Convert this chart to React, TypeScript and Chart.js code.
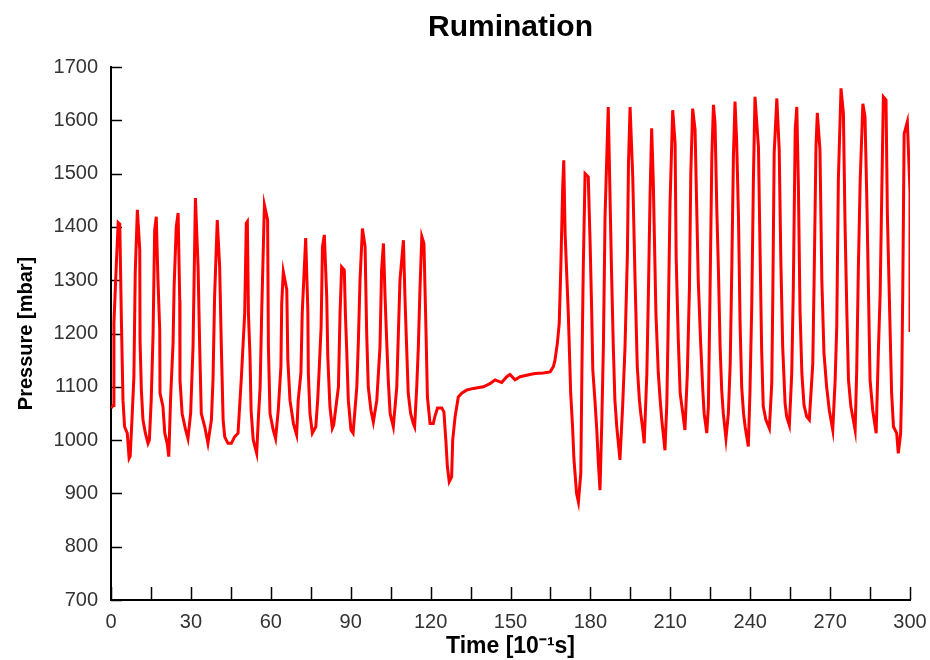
import React, { useEffect, useRef } from "react";
import { Chart, registerables } from "chart.js";

Chart.register(...registerables);

// [time (10^-1 s), pressure (mbar)]
const phase1: [number, number][] = [
  [0, 1060], [0.8, 1065], [1.1, 1220], [2.0, 1330], [2.7, 1408], [3.3, 1405], [3.9, 1225], [4.5, 1075], [5.1, 1025], [6.1, 1013], [6.8, 966], [7.2, 970],
  [7.9, 1041], [8.6, 1119], [9.1, 1313], [9.9, 1432], [10.8, 1357], [10.9, 1188], [11.4, 1094], [12.0, 1038], [12.9, 1013], [13.9, 994], [14.4, 1000],
  [15.1, 1075], [15.8, 1200], [16.4, 1394], [17.0, 1419], [17.6, 1306], [18.3, 1206], [18.4, 1088], [19.5, 1063], [20.2, 1013], [21.1, 994], [21.7, 969],
  [22.4, 1081], [23.3, 1182], [23.7, 1288], [24.5, 1400], [25.2, 1426], [25.8, 1263], [25.9, 1113], [26.7, 1050], [27.9, 1022], [28.9, 1003],
  [29.9, 1050], [30.8, 1175], [31.2, 1300], [31.7, 1454], [32.7, 1325], [33.3, 1175], [33.9, 1050], [35.2, 1025], [36.4, 994],
  [37.7, 1038], [38.3, 1113], [38.9, 1269], [39.9, 1413], [40.8, 1325], [41.4, 1182], [42.1, 1038], [42.7, 1006], [43.9, 994], [45.2, 994], [46.4, 1006], [47.7, 1013],
  [48.9, 1113], [50.2, 1238], [50.8, 1407], [51.2, 1410], [51.6, 1238], [52.2, 1156], [52.6, 1056], [53.4, 1000], [54.7, 975],
  [55.3, 1038], [56.0, 1100], [56.6, 1244], [57.6, 1441], [58.8, 1413], [59.1, 1175], [59.7, 1050], [60.9, 1019], [61.8, 1003],
  [62.8, 1056], [63.8, 1138], [64.1, 1257], [64.7, 1316], [66.0, 1282], [66.4, 1150], [67.2, 1075], [68.5, 1031], [69.7, 1010],
  [70.3, 1075], [71.3, 1125], [71.8, 1238], [72.6, 1325], [73.1, 1379], [73.9, 1244], [74.1, 1125], [74.7, 1050], [75.6, 1013], [76.9, 1025],
  [77.6, 1075], [78.1, 1125], [78.9, 1213], [79.4, 1363], [80.1, 1385], [81.0, 1269], [81.4, 1156], [82.2, 1063], [83.1, 1022], [83.6, 1028],
  [85.4, 1100], [86.0, 1238], [86.6, 1325], [87.6, 1319], [88.0, 1238], [88.5, 1169], [89.1, 1075], [90.1, 1019], [90.9, 1013],
  [92.3, 1100], [92.9, 1188], [93.5, 1300], [94.4, 1397], [95.4, 1363], [96.0, 1200], [96.6, 1100], [97.6, 1056], [98.5, 1034],
  [99.8, 1075], [101.0, 1175], [101.6, 1319], [102.3, 1369], [102.9, 1269], [103.5, 1188], [104.1, 1113], [104.8, 1050], [106.0, 1025],
  [107.3, 1100], [107.9, 1200], [108.5, 1300], [109.8, 1375], [110.4, 1263], [111.0, 1175], [111.6, 1088], [112.5, 1050], [113.5, 1031], [114.0, 1025],
  [114.8, 1100], [115.4, 1175], [116.0, 1282], [116.7, 1382], [117.5, 1369], [118.3, 1200], [118.8, 1081], [119.8, 1031],
];

const pause: [number, number][] = [
  [121.0, 1031], [121.6, 1044], [122.6, 1060], [124.2, 1060], [125.0, 1053], [125.8, 994], [126.3, 950], [127.0, 922], [127.9, 931],
  [128.3, 1000], [129.2, 1044], [130.4, 1081], [131.7, 1088], [133.6, 1094], [136.1, 1097], [139.8, 1100], [142.3, 1106], [144.2, 1113],
  [146.7, 1108], [148.6, 1119], [149.8, 1123], [151.7, 1113], [153.6, 1119], [157.3, 1123], [159.2, 1125], [162.3, 1126], [164.9, 1128],
  [166.1, 1138], [166.7, 1150], [167.6, 1182], [168.3, 1219], [168.9, 1325], [169.6, 1475],
];

const phase2: [number, number][] = [
  [170.0, 1525], [170.5, 1388], [171.7, 1238], [172.6, 1088], [173.3, 1025], [173.8, 966], [174.8, 900], [175.5, 884],
  [176.4, 938], [176.8, 1125], [177.3, 1316], [178.0, 1500], [179.2, 1494], [179.9, 1369], [180.5, 1238], [180.9, 1132], [181.7, 1075], [182.4, 1019], [183.0, 956], [183.6, 906],
  [184.3, 1038], [184.9, 1182], [185.5, 1419], [186.7, 1625], [187.9, 1325], [188.6, 1175], [189.2, 1075], [189.9, 1025], [190.5, 994], [191.1, 963],
  [192.1, 1063], [193.0, 1175], [193.9, 1350], [194.3, 1519], [194.9, 1625], [195.9, 1494], [196.8, 1294], [197.6, 1138], [198.4, 1075], [198.9, 1050], [199.7, 1019], [200.2, 994],
  [201.2, 1125], [201.8, 1282], [202.4, 1457], [203.0, 1585], [203.6, 1488], [204.6, 1238], [205.5, 1125], [206.2, 1075], [206.8, 1038], [208.0, 981],
  [208.7, 1069], [209.2, 1213], [209.9, 1444], [210.9, 1619], [211.8, 1557], [212.2, 1344], [213.0, 1188], [213.7, 1088], [214.7, 1050], [215.5, 1019],
  [216.4, 1125], [217.2, 1288], [217.7, 1500], [218.4, 1622], [219.3, 1582], [219.7, 1488], [220.5, 1300], [221.4, 1182], [222.2, 1094], [222.7, 1050], [223.7, 1013],
  [224.3, 1063], [224.9, 1269], [225.6, 1532], [226.2, 1629], [226.8, 1594], [227.5, 1425], [228.1, 1313], [228.7, 1175], [229.3, 1094], [229.9, 1050], [230.9, 1003],
  [231.8, 1050], [232.5, 1144], [233.1, 1325], [233.7, 1532], [234.3, 1635], [234.9, 1563], [235.6, 1419], [236.2, 1219], [236.8, 1100], [237.5, 1050], [238.1, 1025], [239.3, 988],
  [239.9, 1088], [240.6, 1257], [241.2, 1488], [241.8, 1644], [243.1, 1550], [243.7, 1357], [244.3, 1169], [244.9, 1063], [245.9, 1038], [247.2, 1022],
  [248.1, 1107], [248.5, 1275], [249.0, 1538], [250.0, 1641], [250.9, 1544], [251.5, 1338], [252.2, 1175], [253.1, 1069], [253.7, 1044], [254.7, 1028],
  [255.6, 1125], [256.2, 1288], [256.9, 1582], [257.5, 1625], [258.1, 1475], [258.7, 1244], [259.4, 1125], [260.2, 1066], [261.2, 1044], [262.2, 1038],
  [263.5, 1144], [264.0, 1300], [264.7, 1550], [265.2, 1614], [266.2, 1544], [266.9, 1300], [267.7, 1163], [268.7, 1100], [269.7, 1056], [271.0, 1019],
  [271.9, 1113], [272.5, 1213], [273.1, 1488], [274.1, 1660], [275.0, 1613], [275.6, 1407], [276.3, 1238], [276.9, 1113], [277.8, 1063], [279.4, 1019],
  [280.0, 1132], [280.6, 1319], [281.3, 1488], [282.3, 1631], [283.1, 1607], [283.8, 1450], [284.4, 1282], [285.0, 1113], [286.0, 1056], [287.3, 1013],
  [288.1, 1163], [288.8, 1275], [289.4, 1463], [290.0, 1644], [291.0, 1638], [291.5, 1425], [292.5, 1213], [293.1, 1088], [293.8, 1025], [295.0, 1013], [295.6, 975],
  [296.5, 1013], [296.9, 1107], [297.3, 1288], [297.8, 1575], [299.0, 1597], [300.0, 1466], [300.0, 1203],
];

const X_MIN = 0;
const X_MAX = 300;
const X_STEP = 15;
const X_LABEL_EVERY = 30;
const Y_MIN = 700;
const Y_MAX = 1700;
const Y_STEP = 100;

const TITLE = "Rumination";
const X_TITLE = "Time [10\u207B\u00B9s]";
const Y_TITLE = "Pressure [mbar]";

const FONT = "'Liberation Sans', Arial, sans-serif";

const innerTicks = {
  id: "innerTicks",
  beforeDatasetsDraw(chart: any) {
    const { ctx, chartArea, scales } = chart;
    ctx.save();
    ctx.strokeStyle = "#000";
    ctx.lineWidth = 1.5;
    scales.y.ticks.forEach((t: any) => {
      const py = Math.round(scales.y.getPixelForValue(t.value)) + 0.5;
      ctx.beginPath();
      ctx.moveTo(chartArea.left, py);
      ctx.lineTo(chartArea.left + 11, py);
      ctx.stroke();
    });
    scales.x.ticks.forEach((t: any) => {
      const px = Math.round(scales.x.getPixelForValue(t.value)) + 0.5;
      ctx.beginPath();
      ctx.moveTo(px, chartArea.bottom);
      ctx.lineTo(px, chartArea.bottom - 13);
      ctx.stroke();
    });
    ctx.restore();
  },
};

export default function App() {
  const canvasRef = useRef<HTMLCanvasElement | null>(null);

  useEffect(() => {
    if (!canvasRef.current) return;
    const points = [...phase1, ...pause, ...phase2].map(([x, y]) => ({ x, y }));
    const chart = new Chart(canvasRef.current, {
      type: "line",
      data: {
        datasets: [
          {
            label: "Pressure",
            data: points,
            borderColor: "#ff0000",
            backgroundColor: "#ff0000",
            borderWidth: 3,
            borderJoinStyle: "miter",
            pointRadius: 0,
            tension: 0,
            fill: false,
          },
        ],
      },
      options: {
        animation: false,
        responsive: false,
        maintainAspectRatio: false,
        parsing: false as any,
        layout: { padding: { left: 0, right: 20, top: 0, bottom: 0 } },
        plugins: {
          legend: { display: false },
          tooltip: { enabled: false },
          title: {
            display: true,
            text: TITLE,
            fullSize: false,
            color: "#000",
            font: { family: FONT, size: 30, weight: "bold" },
            padding: { top: 10, bottom: 21 },
          },
        },
        scales: {
          x: {
            type: "linear",
            min: X_MIN,
            max: X_MAX,
            afterFit: (scale: any) => {
              scale.height = 60;
            },
            border: { display: true, color: "#000", width: 2 },
            grid: { display: true, drawOnChartArea: false, drawTicks: true, tickLength: 8, tickColor: "rgba(0,0,0,0)" },
            ticks: {
              stepSize: X_STEP,
              autoSkip: false,
              maxRotation: 0,
              padding: 2,
              color: "#333",
              font: { family: FONT, size: 20 },
              callback: (v: any) => (Number(v) % X_LABEL_EVERY === 0 ? String(v) : ""),
            },
            title: {
              display: true,
              text: X_TITLE,
              color: "#000",
              font: { family: FONT, size: 23, weight: "bold" },
              padding: { top: 0, bottom: 0 },
            },
          },
          y: {
            type: "linear",
            min: Y_MIN,
            max: Y_MAX,
            afterFit: (scale: any) => {
              scale.width = 111;
            },
            border: { display: true, color: "#000", width: 2 },
            grid: { display: true, drawOnChartArea: false, drawTicks: true, tickLength: 8, tickColor: "rgba(0,0,0,0)" },
            ticks: {
              stepSize: Y_STEP,
              padding: 5,
              color: "#333",
              font: { family: FONT, size: 20 },
              callback: (v: any) => String(v),
            },
            title: {
              display: true,
              text: Y_TITLE,
              color: "#000",
              font: { family: FONT, size: 20, weight: "bold" },
              padding: { top: 14, bottom: 0 },
            },
          },
        },
      },
      plugins: [innerTicks],
    });
    return () => chart.destroy();
  }, []);

  return (
    <div style={{ position: "fixed", left: 0, top: 0, width: 930, height: 660, background: "#fff" }}>
      <canvas ref={canvasRef} width={930} height={660} style={{ width: 930, height: 660, display: "block" }} />
    </div>
  );
}
